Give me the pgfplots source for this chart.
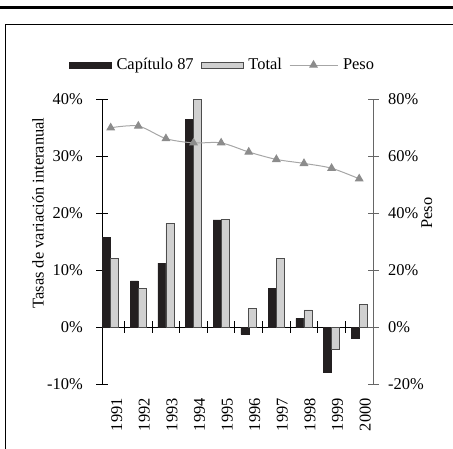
\documentclass[border=0pt]{standalone}
\usepackage{fontspec}
\setmainfont{Liberation Serif}
\usepackage{pgfplots}
\pgfplotsset{compat=1.18}

\definecolor{c87}{HTML}{231F20}
\definecolor{ctot}{HTML}{D0D0D0}
\definecolor{ctotedge}{HTML}{4D4D4D}
\definecolor{cpeso}{HTML}{A6A6A6}
\definecolor{cmark}{HTML}{8C8C8C}
\definecolor{craxis}{HTML}{666666}

\pgfplotsset{
  leg87/.style={legend image code/.code={\fill[c87] (0bp,-3bp) rectangle (42bp,3bp);}},
  legtot/.style={legend image code/.code={\draw[fill=ctot, draw=ctotedge, line width=0.8bp] (0bp,-3bp) rectangle (42bp,3bp);}},
  legpeso/.style={legend image code/.code={
    \draw[cpeso, line width=1bp] (0bp,0bp) -- (48bp,0bp);
    \fill[cmark] (24bp,0bp) ++(90:4.2bp) -- ++(-120:7.27bp) -- ++(0:7.27bp) -- cycle;}},
  common/.style={
    at={(102bp,65bp)}, anchor=south west,
    scale only axis, width=271bp, height=285bp,
    xmin=0.685, xmax=10.5,
    /pgf/number format/assume math mode=true,
    tick align=center, major tick length=11bp,
    axis line style={line width=0.9bp},
    clip=false,
  },
}

\begin{document}
\fontsize{16.5}{19}\selectfont
\begin{tikzpicture}
\useasboundingbox (0,0) rectangle (453bp,449bp);

% left scale: bars
\begin{axis}[common,
  ymin=-10, ymax=40,
  axis y line*=left, axis x line*=middle,
  xtick={1.5,2.5,3.5,4.5,5.5,6.5,7.5,8.5,9.5}, xticklabels={},
  ytick={-10,0,10,20,30,40},
  yticklabel={\pgfmathprintnumber{\tick}\%},
  yticklabel style={xshift=-8bp},
  tick style={line width=0.9bp, black},
  ylabel={Tasas de variación interanual},
  ylabel style={at={(axis description cs:-0.236,0.6)}, anchor=center},
]
\addplot[ybar, bar width=8bp, bar shift=-4bp, fill=c87, draw=c87] coordinates {
  (1,15.7) (2,8.1) (3,11.2) (4,36.4) (5,18.8)
  (6,-1.3) (7,6.8) (8,1.5) (9,-8.0) (10,-1.9)
};
\addplot[ybar, bar width=8bp, bar shift=4bp, fill=ctot, draw=ctotedge, line width=0.8bp] coordinates {
  (1,12.0) (2,6.8) (3,18.2) (4,40.0) (5,18.8)
  (6,3.3) (7,12.0) (8,3.0) (9,-4.0) (10,4.0)
};
\end{axis}

% right scale: Peso, year labels, legend
\begin{axis}[common,
  ymin=-20, ymax=80,
  axis y line*=right, axis x line*=bottom,
  x axis line style={draw=none},
  xtick={1,...,10},
  xticklabels={1991,1992,1993,1994,1995,1996,1997,1998,1999,2000},
  xtick style={draw=none},
  xticklabel style={xshift=6bp, yshift=-3bp, rotate=90, anchor=east},
  ytick={-20,0,20,40,60,80},
  yticklabel={\pgfmathprintnumber{\tick}\%},
  yticklabel style={xshift=4bp},
  y axis line style={craxis},
  ytick style={line width=0.9bp, craxis},
  ylabel={Peso},
  ylabel style={at={(axis description cs:1.199,0.6)}, anchor=center},
  legend columns=3,
  legend style={at={(axis description cs:0.445,1.119)}, anchor=center,
    draw=none, fill=none,
    /tikz/every odd column/.append style={column sep=3bp},
    /tikz/every even column/.append style={column sep=5bp}},
]
\addlegendimage{leg87}
\addlegendentry{Capítulo 87}
\addlegendimage{legtot}
\addlegendentry{Total}
\addplot[cpeso, line width=1bp, smooth, tension=0.5,
  mark=triangle*, mark size=4.2bp, mark options={fill=cmark, draw=cmark}, legpeso]
  coordinates {
  (1,69.9) (2,70.5) (3,66.1) (4,64.6) (5,64.6)
  (6,61.4) (7,58.8) (8,57.4) (9,55.7) (10,52.0)
};
\addlegendentry{Peso}
\end{axis}

% page decorations
\draw[line width=2.7bp] (0bp,441.7bp) -- (453bp,441.7bp);
\draw[line width=1.3bp] (5.8bp,0bp) -- (5.8bp,424.8bp) -- (453bp,424.8bp);
\end{tikzpicture}
\end{document}
